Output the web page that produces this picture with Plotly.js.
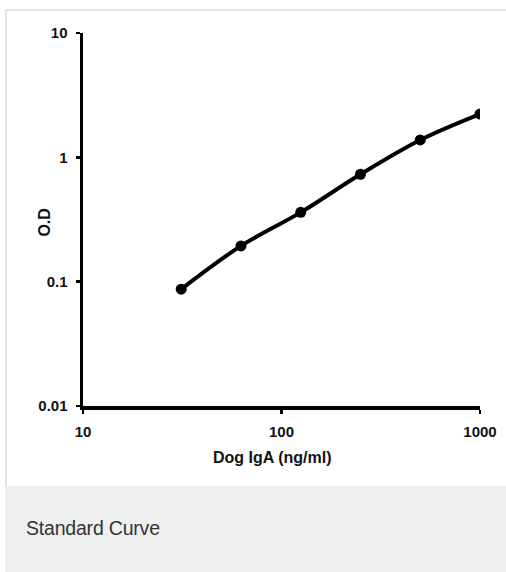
<!DOCTYPE html>
<html>
<head>
<meta charset="utf-8">
<script src="https://cdn.plot.ly/plotly-3.0.1.min.js"></script>
<style>
  html, body { margin:0; padding:0; width:506px; height:572px; overflow:hidden; background:#ffffff; }
  #card { position:absolute; left:5px; top:9px; width:520px; height:475px; border-top:2px solid #e4e4e4; border-left:2px solid #e4e4e4; background:#fff; }
  #cap { position:absolute; left:5px; top:486px; width:520px; height:100px; background:#eef0ef; }
  #captxt { position:absolute; left:26px; top:517px; font-family:"Liberation Sans", Arial, sans-serif; font-size:19.5px; color:#333; letter-spacing:-0.2px; line-height:1.15; }
  #chart { position:absolute; left:0; top:0; width:506px; height:572px; }
</style>
</head>
<body>
<div id="card"></div>
<div id="cap"></div>
<div id="captxt">Standard Curve</div>
<div id="chart"></div>
<script>
const concentration = [31.25, 62.5, 125, 250, 500, 1000];
const opticalDensity = [0.087, 0.194, 0.361, 0.731, 1.38, 2.23];
const xTickVals = [10, 100, 1000];
const xTickText = ["10", "100", "1000"];
const yTickVals = [0.01, 0.1, 1, 10];
const yTickText = ["0.01", "0.1", "1", "10"];
const xTitle = "Dog IgA (ng/ml)";
const yTitle = "O.D";

const fontFam = '"Liberation Sans", Arial, sans-serif';

const trace = {
  x: concentration,
  y: opticalDensity,
  type: 'scatter',
  mode: 'lines+markers',
  line: { color: '#000', width: 4, shape: 'spline', smoothing: 1 },
  marker: { color: '#000', size: 11, symbol: 'circle' },
  hoverinfo: 'skip'
};

const axisCommon = {
  type: 'log',
  showline: true,
  linecolor: '#000',
  linewidth: 3.5,
  showgrid: false,
  zeroline: false,
  ticks: 'outside',
  ticklen: 4,
  tickwidth: 2.5,
  tickcolor: '#000',
  tickfont: { family: fontFam, size: 15, color: '#111', weight: 700 },
  fixedrange: true
};

const layout = {
  width: 506,
  height: 572,
  margin: { l: 83, r: 26, t: 33, b: 166 },
  paper_bgcolor: 'rgba(0,0,0,0)',
  plot_bgcolor: 'rgba(0,0,0,0)',
  showlegend: false,
  xaxis: Object.assign({}, axisCommon, {
    range: [1, 3],
    tickvals: xTickVals,
    ticktext: xTickText,
    ticklabelstandoff: 5
  }),
  yaxis: Object.assign({}, axisCommon, {
    range: [-2, 1],
    tickvals: yTickVals,
    ticktext: yTickText,
    ticklabelstandoff: 5
  }),
  annotations: [
    { text: xTitle, xref: 'paper', yref: 'paper', x: 0.4765, y: -0.139, xanchor: 'center', yanchor: 'middle', showarrow: false,
      font: { family: fontFam, size: 16, color: '#111', weight: 700 } },
    { text: yTitle, xref: 'paper', yref: 'paper', x: -0.097, y: 0.493, xanchor: 'center', yanchor: 'middle', showarrow: false, textangle: -90,
      font: { family: fontFam, size: 16, color: '#111', weight: 700 } }
  ]
};

Plotly.newPlot('chart', [trace], layout, { displayModeBar: false, staticPlot: true });
</script>
</body>
</html>
